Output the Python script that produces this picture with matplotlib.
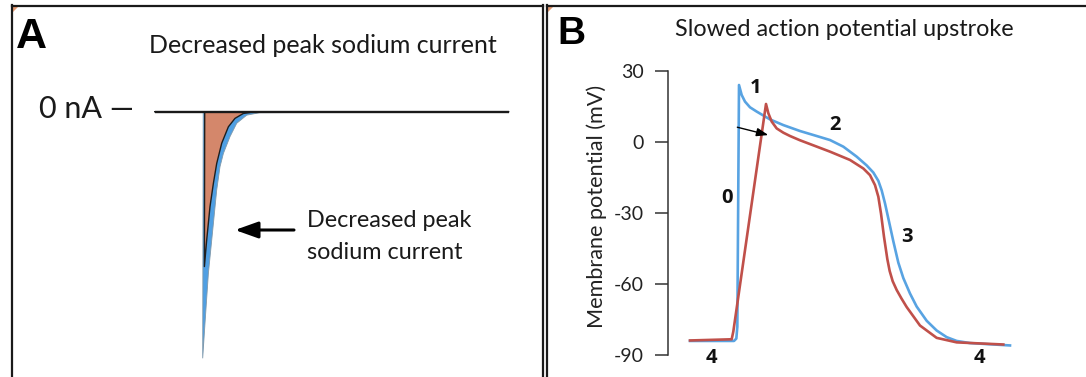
import matplotlib
matplotlib.use("Agg")
import matplotlib.pyplot as plt
from matplotlib.lines import Line2D
from matplotlib.patches import Polygon, FancyArrowPatch

W, H = 1086, 377

# ---- Panel A: sodium current (time in ms, current normalised to control peak) ----
na_time_control = [-4.8, 0.05, 0.0, 0.23, 0.57, 1.07, 1.4, 1.73, 2.07, 2.73, 3.4, 4.4, 5.7, 30.6]
na_current_control = [0, 0, -1.0, -0.858, -0.655, -0.453, -0.318, -0.223, -0.169, -0.101,
                      -0.047, -0.014, -0.004, 0]
na_time_reduced = [-4.8, 0.2, 0.17, 0.4, 0.73, 1.07, 1.4, 1.9, 2.57, 3.23, 4.07, 5.07, 30.6]
na_current_reduced = [0, 0, -0.628, -0.52, -0.385, -0.29, -0.21, -0.128, -0.061, -0.027,
                      -0.007, -0.001, 0]

# ---- Panel B: action potentials (time in ms, membrane potential in mV) ----
ap_time_control = [0, 66, 69.5, 71, 73.5, 77.5, 82.5, 90, 100, 120, 140, 165, 190, 210, 230,
                   250, 265, 275, 282.5, 287.5, 292.5, 298, 305, 312.5, 320, 330, 340, 355,
                   370, 385, 400, 420, 480]
ap_voltage_control = [-84.0, -84.0, -83.0, -78.0, 23.9, 19.7, 16.9, 14.5, 12.7, 9.4, 7.0, 4.5,
                      2.4, 0.7, -2.1, -6.3, -10.0, -13.0, -16.5, -20.5, -26.0, -33.0, -42.0,
                      -51.0, -57.5, -64.0, -69.5, -75.5, -79.6, -82.4, -84.0, -84.9, -85.9]
ap_time_slowed = [0, 62.5, 65, 114, 117.5, 122.5, 130, 140, 150, 165, 180, 210, 240, 260, 270,
                  277.5, 282.5, 286.5, 291, 296, 299.5, 304, 310, 317, 325, 345, 370, 400, 470]
ap_voltage_slowed = [-83.8, -83.3, -80.0, 15.9, 12.0, 8.5, 5.6, 3.8, 2.4, 0.6, -1.0, -4.2, -7.7,
                     -11.3, -14.1, -18.3, -23.2, -30.3, -40.1, -49.5, -54.5, -58.8, -62.5,
                     -66.0, -69.7, -77.5, -82.7, -84.6, -85.5]

phase_labels = ["0", "1", "2", "3", "4", "4"]
phase_time = [55.5, 99, 217.5, 325.5, 31.5, 433.5]
phase_voltage = [-23.7, 22.6, 7.0, -40.2, -91.2, -91.2]

arrow_start = (71, 6.1)
arrow_end = (117.5, 2.8)

y_ticks = [30, 0, -30, -60, -90]
y_tick_labels = ["30", "0", "-30", "-60", "-90"]

BLUE_FILL = "#4f9fe3"
ORANGE_FILL = "#d4876b"
BLUE_LINE = "#58a3e2"
RED_LINE = "#c0504a"
TEXT_FONT = "Lato"
BOLD_FONT = "Liberation Sans"


def fx(x):
    return x / W


def fy(y):
    return 1 - y / H


fig = plt.figure(figsize=(W / 100, H / 100), dpi=100)
fig.patch.set_facecolor("white")

# ---- Panel A axes ----
ax_a = fig.add_axes([0, 0, 545 / W, 1])
ax_a.set_xlim(-20.27, 34.23)
ax_a.set_ylim(-1.0758, 0.4530)
ax_a.axis("off")
ax_a.fill(na_time_control, na_current_control, facecolor=BLUE_FILL,
          edgecolor="#7f98aa", lw=0.6, zorder=1)
ax_a.fill(na_time_reduced, na_current_reduced, facecolor=ORANGE_FILL,
          edgecolor="none", zorder=2)
ax_a.plot(na_time_reduced, na_current_reduced, color="#1f1f1f", lw=1.0, zorder=3)
# zero-current level
ax_a.hlines(0, na_time_reduced[0], na_time_reduced[-1], color="#1a1a1a", lw=1.7, zorder=4)

# ---- Panel B axes ----
ax_b = fig.add_axes([668 / W, 0, (W - 668) / W, 317 / H])
ax_b.set_xlim(-33, 594)
ax_b.set_ylim(-99.2, 34.44)
ax_b.patch.set_alpha(0)
for side in ("top", "right", "bottom"):
    ax_b.spines[side].set_visible(False)
ax_b.spines["left"].set_bounds(-90, 30)
ax_b.spines["left"].set_linewidth(1.1)
ax_b.spines["left"].set_color("#333333")
ax_b.set_xticks([])
ax_b.set_yticks(y_ticks)
ax_b.set_yticklabels(y_tick_labels, fontfamily=TEXT_FONT, fontsize=14, color="#222222")
ax_b.tick_params(axis="y", length=9.4, width=1.1, pad=8, color="#333333")
ax_b.set_ylabel("Membrane potential (mV)", fontfamily=TEXT_FONT, fontsize=15.6,
                color="#222222", va="center")
ax_b.yaxis.set_label_coords(-0.17, 0.537)

ax_b.plot(ap_time_control, ap_voltage_control, color=BLUE_LINE, lw=1.9, zorder=2,
          solid_joinstyle="round")
ax_b.plot(ap_time_slowed, ap_voltage_slowed, color=RED_LINE, lw=1.9, zorder=3,
          solid_joinstyle="round")
ax_b.annotate("", xy=arrow_end, xytext=arrow_start,
              arrowprops=dict(arrowstyle="-|>,head_length=0.7,head_width=0.25",
                              color="black", lw=1.0, mutation_scale=10,
                              shrinkA=0, shrinkB=0), zorder=4)
for lab, t, v in zip(phase_labels, phase_time, phase_voltage):
    ax_b.text(t, v, lab, ha="center", va="center", fontsize=14.5, fontweight="bold",
              fontfamily="Open Sans", color="#111111", clip_on=False)

# ---- Panel A annotations ----
fig.text(fx(16), fy(47.5), "A", fontsize=31, fontweight="bold", fontfamily=BOLD_FONT,
         ha="left", va="baseline")
fig.text(fx(323), fy(53), "Decreased peak sodium current", fontsize=18,
         fontfamily=TEXT_FONT, ha="center", va="baseline", color="#1a1a1a")
fig.text(fx(134), fy(118), "0 nA \u2014", fontsize=22, fontfamily=TEXT_FONT,
         ha="right", va="baseline", color="#1a1a1a")
fig.text(fx(307), fy(227), "Decreased peak", fontsize=16.8, fontfamily=TEXT_FONT,
         ha="left", va="baseline", color="#1a1a1a")
fig.text(fx(307), fy(259), "sodium current", fontsize=16.8, fontfamily=TEXT_FONT,
         ha="left", va="baseline", color="#1a1a1a")
fig.patches.append(FancyArrowPatch(
    (fx(294), fy(230)), (fx(235), fy(230)), transform=fig.transFigure,
    arrowstyle="-|>,head_length=1.4,head_width=0.5", mutation_scale=10,
    color="black", lw=2.2, shrinkA=0, shrinkB=0))

# ---- Panel B title ----
fig.text(fx(557), fy(44), "B", fontsize=28, fontweight="bold", fontfamily=BOLD_FONT,
         ha="left", va="baseline")
fig.text(fx(844.5), fy(36), "Slowed action potential upstroke", fontsize=16.8,
         fontfamily=TEXT_FONT, ha="center", va="baseline", color="#1a1a1a")

# ---- Panel frames ----
frame_kw = dict(transform=fig.transFigure, color="#1a1a1a", lw=1.6)
fig.lines.extend([
    Line2D([fx(11.5), fx(11.5)], [fy(5), 0], **frame_kw),
    Line2D([fx(11.5), fx(542.5)], [fy(5.5), fy(5.5)], **frame_kw),
    Line2D([fx(542.5), fx(542.5)], [fy(5), 0], **frame_kw),
    Line2D([fx(546.5), fx(546.5)], [fy(5), 0], **frame_kw),
    Line2D([fx(546.5), 1], [fy(5.5), fy(5.5)], **frame_kw),
])
for x0 in (12.5, 547.5):
    fig.patches.append(Polygon([(fx(x0), fy(6.5)), (fx(x0 + 6), fy(6.5)), (fx(x0), fy(12.5))],
                               closed=True, transform=fig.transFigure,
                               facecolor="#e39a72", edgecolor="none"))

fig.savefig("out.png", dpi=100)
